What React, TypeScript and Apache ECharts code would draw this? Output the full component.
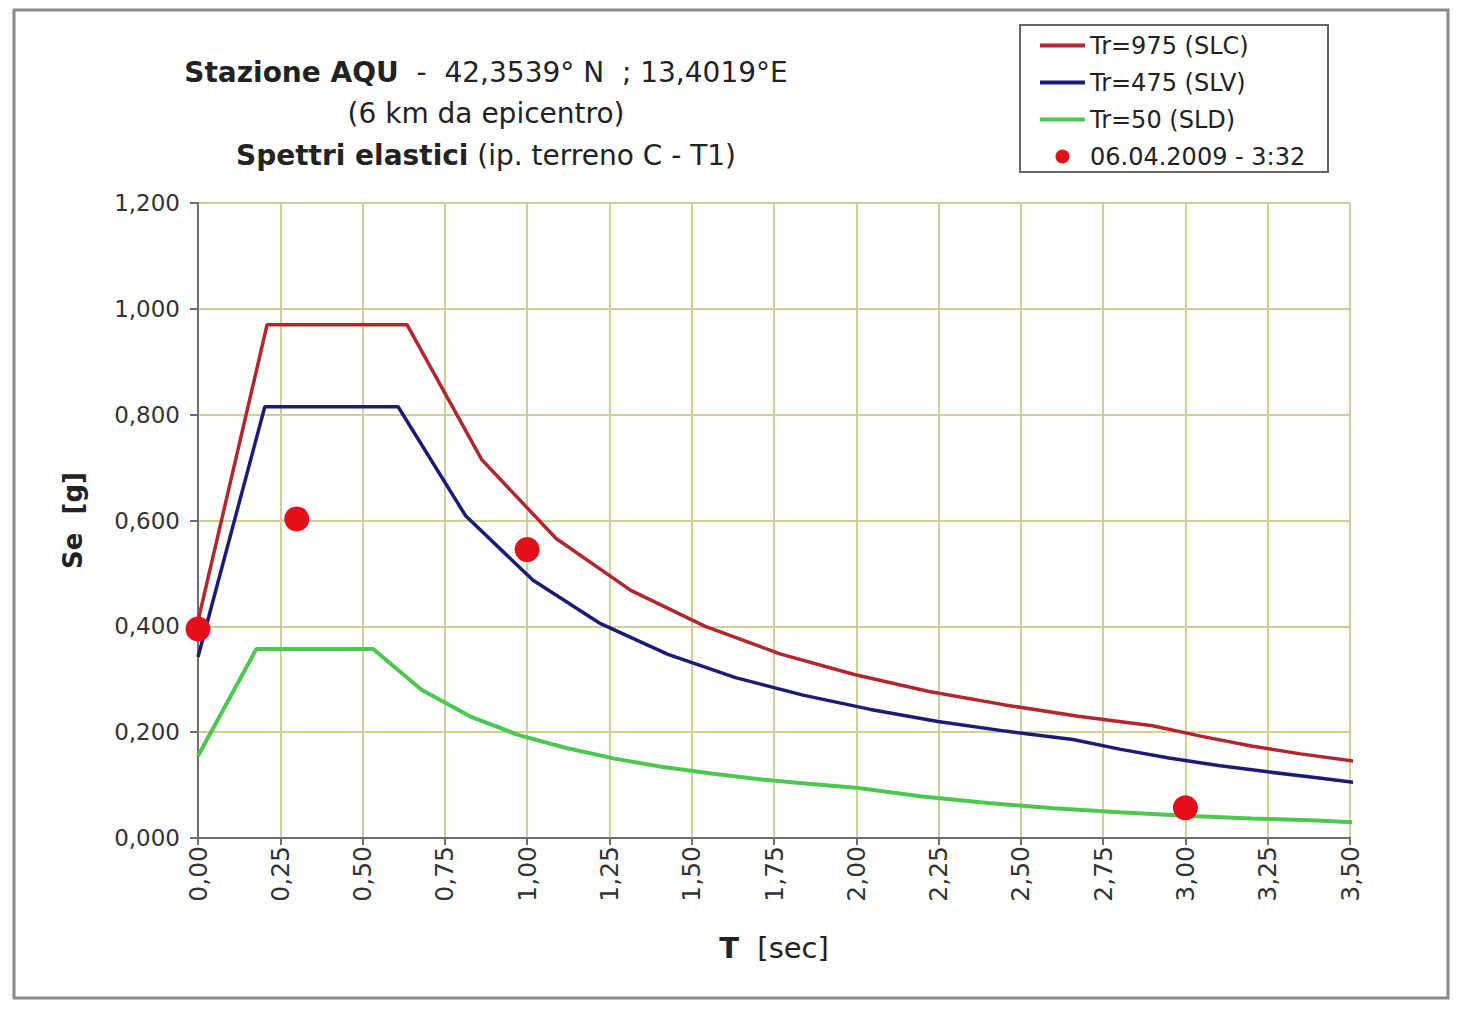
import React, { useEffect, useRef } from "react";
import * as echarts from "echarts";

// Periods T [sec] and spectral accelerations Se [g]
const T_SLC = [0, 0.21, 0.635, 0.862, 1.088, 1.315, 1.541, 1.768, 1.994, 2.221, 2.447, 2.674, 2.9, 3.05, 3.2, 3.35, 3.54];
const SE_SLC = [0.41, 0.97, 0.97, 0.715, 0.566, 0.468, 0.4, 0.348, 0.309, 0.277, 0.252, 0.23, 0.212, 0.192, 0.174, 0.159, 0.143];

const T_SLV = [0, 0.203, 0.608, 0.813, 1.018, 1.223, 1.428, 1.633, 1.838, 2.043, 2.248, 2.453, 2.658, 2.8, 2.95, 3.1, 3.25, 3.4, 3.54];
const SE_SLV = [0.342, 0.815, 0.815, 0.609, 0.487, 0.405, 0.347, 0.303, 0.27, 0.243, 0.22, 0.202, 0.186, 0.168, 0.151, 0.137, 0.125, 0.114, 0.103];

const T_SLD = [0, 0.177, 0.532, 0.679, 0.826, 0.972, 1.119, 1.266, 1.413, 1.56, 1.706, 1.853, 2.0, 2.2, 2.4, 2.6, 2.8, 3.0, 3.2, 3.4, 3.54];
const SE_SLD = [0.155, 0.357, 0.357, 0.28, 0.23, 0.195, 0.17, 0.15, 0.134, 0.122, 0.111, 0.1025, 0.095, 0.0785, 0.066, 0.056, 0.0485, 0.042, 0.037, 0.033, 0.029];

const T_EVENT = [0, 0.3, 1.0, 3.0];
const SE_EVENT = [0.395, 0.603, 0.545, 0.057];

const SERIES_NAMES = ["Tr=975 (SLC)", "Tr=475 (SLV)", "Tr=50 (SLD)", "06.04.2009 - 3:32"];
const TITLE_LINES = [
  "{b|Stazione AQU}  -  42,3539° N  ; 13,4019°E",
  "(6 km da epicentro)",
  "{b|Spettri elastici} (ip. terreno C - T1)",
];

const FONT = "'DejaVu Sans', 'Liberation Sans', Arial, sans-serif";
const LINE_ICON = "path://M0,0H45V4H0Z";

const pair = (xs: number[], ys: number[]) => xs.map((x, i) => [x, ys[i]]);

export default function App() {
  const ref = useRef<HTMLDivElement>(null);
  useEffect(() => {
    document.body.style.margin = "0";
    document.body.style.overflow = "hidden";
    const chart = echarts.init(ref.current!, null, { renderer: "svg" });
    const titleY = [72, 113, 155];
    chart.setOption({
      animation: false,
      backgroundColor: "#ffffff",
      textStyle: { fontFamily: FONT },
      grid: { left: 198, right: 115, top: 203, bottom: 181 },
      legend: {
        orient: "vertical",
        left: 1040,
        top: 33,
        padding: 0,
        itemWidth: 45,
        itemHeight: 14,
        itemGap: 12,
        textStyle: { fontSize: 24, lineHeight: 25, color: "#222", fontFamily: FONT },
        data: [
          { name: SERIES_NAMES[0], icon: LINE_ICON },
          { name: SERIES_NAMES[1], icon: LINE_ICON },
          { name: SERIES_NAMES[2], icon: LINE_ICON },
          { name: SERIES_NAMES[3], icon: "circle" },
        ],
      },
      graphic: [
        {
          type: "rect",
          shape: { x: 14, y: 10, width: 1434, height: 988 },
          style: { fill: "none", stroke: "#8a8a8a", lineWidth: 3 },
          silent: true,
        },
        {
          type: "rect",
          shape: { x: 1020, y: 25, width: 308, height: 147 },
          style: { fill: "none", stroke: "#666", lineWidth: 2 },
          silent: true,
        },
        ...TITLE_LINES.map((t, i) => ({
          type: "text",
          x: 486,
          y: titleY[i],
          style: {
            text: t,
            align: "center",
            verticalAlign: "middle",
            fontSize: 28,
            fontFamily: FONT,
            fill: "#222",
            rich: { b: { fontSize: 28, fontWeight: "bold", fontFamily: FONT, fill: "#222" } },
          },
        })),
      ],
      xAxis: {
        type: "value",
        min: 0,
        max: 3.5,
        interval: 0.25,
        name: "{b|T}  [sec]",
        nameLocation: "middle",
        nameGap: 95,
        nameTextStyle: {
          fontSize: 29,
          color: "#222",
          fontFamily: FONT,
          rich: { b: { fontSize: 29, fontWeight: "bold", color: "#222", fontFamily: FONT } },
        },
        axisLine: { show: true, lineStyle: { color: "#6e6e6e", width: 2 } },
        axisTick: { show: true, length: 7, lineStyle: { color: "#6e6e6e", width: 2 } },
        axisLabel: {
          rotate: 90,
          fontSize: 25,
          color: "#333",
          margin: 8,
          fontFamily: FONT,
          formatter: (v: number) => v.toFixed(2).replace(".", ","),
        },
        splitLine: { show: true, lineStyle: { color: "#cfcf98", width: 2 } },
      },
      yAxis: {
        type: "value",
        min: 0,
        max: 1.2,
        interval: 0.2,
        name: "Se  [g]",
        nameLocation: "middle",
        nameGap: 112,
        nameTextStyle: { fontSize: 26, fontWeight: "bold", color: "#222", fontFamily: FONT },
        axisLine: { show: true, lineStyle: { color: "#6e6e6e", width: 2 } },
        axisTick: { show: true, length: 8, lineStyle: { color: "#6e6e6e", width: 2 } },
        axisLabel: {
          fontSize: 23,
          color: "#333",
          margin: 18,
          fontFamily: FONT,
          formatter: (v: number) => v.toFixed(3).replace(".", ","),
        },
        splitLine: { show: true, lineStyle: { color: "#cfcf98", width: 2 } },
      },
      series: [
        {
          name: SERIES_NAMES[0],
          type: "line",
          data: pair(T_SLC, SE_SLC),
          symbol: "none",
          clip: false,
          lineStyle: { color: "#b3262e", width: 3.5 },
          itemStyle: { color: "#b3262e" },
          z: 3,
        },
        {
          name: SERIES_NAMES[1],
          type: "line",
          data: pair(T_SLV, SE_SLV),
          symbol: "none",
          clip: false,
          lineStyle: { color: "#1c1c78", width: 3.5 },
          itemStyle: { color: "#1c1c78" },
          z: 3,
        },
        {
          name: SERIES_NAMES[2],
          type: "line",
          data: pair(T_SLD, SE_SLD),
          symbol: "none",
          clip: false,
          lineStyle: { color: "#4cc850", width: 4 },
          itemStyle: { color: "#4cc850" },
          z: 3,
        },
        {
          name: SERIES_NAMES[3],
          type: "scatter",
          data: pair(T_EVENT, SE_EVENT),
          symbol: "circle",
          symbolSize: 25,
          clip: false,
          itemStyle: { color: "#e3101a", opacity: 1 },
          z: 5,
        },
      ],
    });
    return () => chart.dispose();
  }, []);
  return <div ref={ref} style={{ width: 1465, height: 1019 }} />;
}
